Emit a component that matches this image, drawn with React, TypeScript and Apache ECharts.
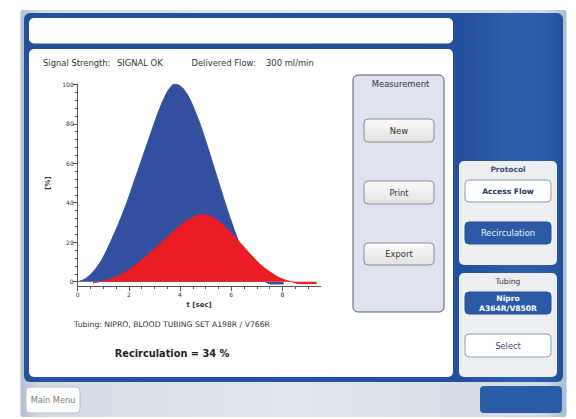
import React, { useEffect, useRef } from "react";
import * as echarts from "echarts";

// ---- data ----
const blueTimes = [0, 0.2, 0.4, 0.6, 0.8, 1.0, 1.2, 1.4, 1.6, 1.8, 2.0, 2.2, 2.4, 2.6, 2.8, 3.0, 3.2, 3.4, 3.6, 3.8, 4.0, 4.2, 4.4, 4.6, 4.8, 5.0, 5.2, 5.4, 5.6, 5.8, 6.0, 6.2, 6.4, 6.6, 6.8, 7.0, 7.2, 7.4, 7.6, 7.8, 8.05];
const blueValues = [0, 0.8, 2.5, 5, 8.3, 12.5, 17.8, 23.5, 29.5, 36, 43, 50.5, 58, 65.5, 73, 80.5, 87.5, 93.5, 98, 100, 99.2, 96.5, 92, 86, 79.3, 71.5, 63.3, 55, 46.7, 38.5, 30.8, 23.5, 17, 11.5, 7, 3.6, 1.2, -0.5, -1.2, -1.2, -1.2];

const redTimes = [0.6, 0.8, 1.0, 1.2, 1.4, 1.6, 1.8, 2.0, 2.2, 2.4, 2.6, 2.8, 3.0, 3.2, 3.4, 3.6, 3.8, 4.0, 4.2, 4.4, 4.6, 4.8, 5.0, 5.2, 5.4, 5.6, 5.8, 6.0, 6.2, 6.4, 6.6, 6.8, 7.0, 7.2, 7.4, 7.6, 7.8, 8.0, 8.2, 8.4, 8.6, 8.8, 9.0, 9.2, 9.34];
const redValues = [-0.6, -0.2, 0.4, 1, 2, 3, 4.3, 6, 7.8, 9.8, 12, 14.3, 16.6, 19, 21.3, 23.7, 26, 28.3, 30.3, 32, 33.2, 33.9, 33.8, 33, 31.6, 29.6, 27.2, 24.6, 21.8, 19, 16, 13.2, 10.5, 8.1, 6, 4.2, 2.6, 1.4, 0.5, -0.2, -0.9, -1, -1, -1, -1];

const xMajorTicks = [0, 2, 4, 6, 8];
const xMinorTicks = [0.5, 1, 1.5, 2.5, 3, 3.5, 4.5, 5, 5.5, 6.5, 7, 7.5, 8.5, 9];
const yMajorTicks = [0, 20, 40, 60, 80, 100];
const yMinorTicks = [4, 8, 12, 16, 24, 28, 32, 36, 44, 48, 52, 56, 64, 68, 72, 76, 84, 88, 92, 96];

const signalLabel = "Signal Strength:";
const signalValue = "SIGNAL OK";
const flowLabel = "Delivered Flow:";
const flowValue = "300 ml/min";
const tubingText = "Tubing: NIPRO, BLOOD TUBING SET A198R / V766R";
const resultText = "Recirculation = 34 %";

const FONT = "DejaVu Sans";

function rect(x: number, y: number, w: number, h: number, r: number, fill: any, stroke?: string, lw?: number) {
  return {
    type: "rect",
    z: -10,
    shape: { x, y, width: w, height: h, r },
    style: { fill, stroke: stroke || null, lineWidth: lw || 0 },
    silent: true,
  };
}

function text(t: string, x: number, y: number, size: number, color: string, opts: any = {}) {
  return {
    type: "text",
    z: 10,
    x,
    y,
    rotation: opts.rotation || 0,
    style: {
      text: t,
      x: 0,
      y: 0,
      fill: color,
      fontSize: size,
      fontFamily: FONT,
      fontWeight: opts.bold ? "bold" : "normal",
      align: opts.align || "left",
      verticalAlign: "middle",
    },
    silent: true,
  };
}

function button(x: number, y: number, w: number, h: number, label: string, kind: string) {
  const els: any[] = [];
  if (kind === "grey") {
    els.push(rect(x, y, w, h, 4, { type: "linear", x: 0, y: 0, x2: 0, y2: 1, colorStops: [{ offset: 0, color: "#fbfbfb" }, { offset: 1, color: "#e2e2e2" }] }, "#8c8c8c", 1));
    els.push(text(label, x + w / 2, y + h / 2, 8.4, "#333333", { align: "center" }));
  } else if (kind === "white") {
    els.push(rect(x, y, w, h, 4, "#ffffff", "#8f9db3", 1));
    els.push(text(label, x + w / 2, y + h / 2, 8.2, "#3a4a6c", { align: "center" }));
  } else if (kind === "whiteBold") {
    els.push(rect(x, y, w, h, 4, "#ffffff", "#8f9db3", 1));
    els.push(text(label, x + w / 2, y + h / 2, 7.6, "#24386a", { align: "center", bold: true }));
  }
  return els;
}

export default function App() {
  const ref = useRef<HTMLDivElement>(null);

  useEffect(() => {
    if (!ref.current) return;
    const chart = echarts.init(ref.current, null, { renderer: "svg" });

    const blueData = blueTimes.map((t, i) => [t, blueValues[i]]);
    const redData = redTimes.map((t, i) => [t, redValues[i]]);

    const graphics: any[] = [
      // outer light frame
      rect(20.5, 10, 546, 407, 2, { type: "linear", x: 0, y: 0, x2: 1, y2: 0, colorStops: [{ offset: 0, color: "#b2c1d0" }, { offset: 0.04, color: "#d3dce5" }, { offset: 0.5, color: "#dfe6ec" }, { offset: 0.96, color: "#d0dae4" }, { offset: 1, color: "#a9bccf" }] }),
      // blue frame
      rect(24, 13, 539, 369, 6, { type: "linear", x: 0, y: 0, x2: 1, y2: 0, colorStops: [{ offset: 0, color: "#24509c" }, { offset: 0.82, color: "#23509d" }, { offset: 0.9, color: "#2d5fab" }, { offset: 0.97, color: "#2a5ba8" }, { offset: 1, color: "#234f9b" }] }),
      // top white box
      rect(29, 18, 424, 25.5, 5, "#ffffff"),
      // main white panel
      rect(29, 49, 424, 328, 5, "#ffffff"),
      // measurement panel
      rect(353, 75, 91, 237, 5, "#dfe2f1", "#5a5a5a", 1),
      // protocol box
      rect(459, 161, 98, 104, 5, "#eeeff2"),
      // tubing box
      rect(459, 273, 98, 104, 5, "#eeeff2"),
      // main menu button
      rect(26, 387, 54, 26, 4, "#ffffff", "#b8bec6", 1),
      // bottom right blue button
      rect(480, 386, 82, 27, 4, "#2a5ba7"),
      // recirculation button
      rect(465, 222, 86, 22, 4, "#2b5ba6", "#244f93", 1),
      // nipro button
      rect(465, 292, 86, 22, 4, "#2b5ba6", "#244f93", 1),

      text(signalLabel, 43, 63, 8.4, "#333333"),
      text(signalValue, 117, 63, 8.4, "#333333"),
      text(flowLabel, 191.5, 63, 8.4, "#333333"),
      text(flowValue, 266, 63, 8.4, "#333333"),
      text("[%]", 48, 183, 7, "#333333", { bold: true, align: "center", rotation: Math.PI / 2 }),
      text(tubingText, 172, 324, 7.7, "#333333", { align: "center" }),
      text(resultText, 172, 353, 9.8, "#222222", { align: "center", bold: true }),

      text("Measurement", 400.5, 84, 8.4, "#333333", { align: "center" }),
      ...button(364, 119, 70, 23, "New", "grey"),
      ...button(364, 181, 70, 23, "Print", "grey"),
      ...button(364, 243, 70, 22, "Export", "grey"),

      text("Protocol", 508, 169, 7.5, "#3b4d70", { align: "center", bold: true }),
      ...button(465, 180, 86, 22, "Access Flow", "whiteBold"),
      text("Recirculation", 508, 233, 8.4, "#eef3fb", { align: "center" }),

      text("Tubing", 508, 281, 7.6, "#333333", { align: "center" }),
      text("Nipro", 508, 298, 7.6, "#ffffff", { align: "center", bold: true }),
      text("A364R/V850R", 508, 308, 7.6, "#ffffff", { align: "center", bold: true }),
      ...button(465, 334, 86, 23, "Select", "white"),

      text("Main Menu", 53, 400, 8.2, "#7a7a7a", { align: "center" }),
    ];

    const axisColor = "#555555";

    chart.setOption({
      animation: false,
      grid: { left: 77.7, top: 84.3, width: 243, height: 201.7, outerBoundsMode: "none", containLabel: false },
      xAxis: [
        {
          type: "value",
          min: 0,
          max: 9.5,
          axisLine: { show: true, onZero: false, lineStyle: { color: axisColor, width: 1 } },
          axisTick: { show: true, length: 5, customValues: xMajorTicks, lineStyle: { color: axisColor } },
          axisLabel: { show: true, customValues: xMajorTicks, fontSize: 6, fontFamily: FONT, color: "#333333", margin: 5 },
          splitLine: { show: false },
          name: "t [sec]",
          nameLocation: "middle",
          nameGap: 15,
          nameTextStyle: { fontSize: 7, fontWeight: "bold", fontFamily: FONT, color: "#333333" },
        },
        {
          type: "value",
          min: 0,
          max: 9.5,
          position: "bottom",
          axisLine: { show: false, onZero: false },
          axisTick: { show: true, length: 3, customValues: xMinorTicks, lineStyle: { color: axisColor } },
          axisLabel: { show: false },
          splitLine: { show: false },
        },
      ],
      yAxis: [
        {
          type: "value",
          min: -2.2,
          max: 100,
          axisLine: { show: true, onZero: false, lineStyle: { color: axisColor, width: 1 } },
          axisTick: { show: true, length: 5, customValues: yMajorTicks, lineStyle: { color: axisColor } },
          axisLabel: { show: true, customValues: yMajorTicks, fontSize: 6, fontFamily: FONT, color: "#333333", margin: 4 },
          splitLine: { show: false },
        },
        {
          type: "value",
          min: -2.2,
          max: 100,
          position: "left",
          axisLine: { show: false, onZero: false },
          axisTick: { show: true, length: 3, customValues: yMinorTicks, lineStyle: { color: axisColor } },
          axisLabel: { show: false },
          splitLine: { show: false },
        },
      ],
      graphic: { elements: graphics },
      series: [
        {
          type: "line",
          name: "Indicator",
          data: blueData,
          smooth: true,
          showSymbol: false,
          lineStyle: { color: "#3350a0", width: 1 },
          itemStyle: { color: "#3350a0" },
          areaStyle: { color: "#3350a0", opacity: 1 },
          z: 2,
        },
        {
          type: "line",
          name: "Recirculation",
          data: redData,
          smooth: true,
          showSymbol: false,
          lineStyle: { color: "#ec1c24", width: 1 },
          itemStyle: { color: "#ec1c24" },
          areaStyle: { color: "#ec1c24", opacity: 1 },
          z: 3,
        },
      ],
    });

    return () => chart.dispose();
  }, []);

  return (
    <div
      ref={ref}
      style={{ position: "fixed", left: 0, top: 0, width: 576, height: 419, background: "#ffffff" }}
    />
  );
}
